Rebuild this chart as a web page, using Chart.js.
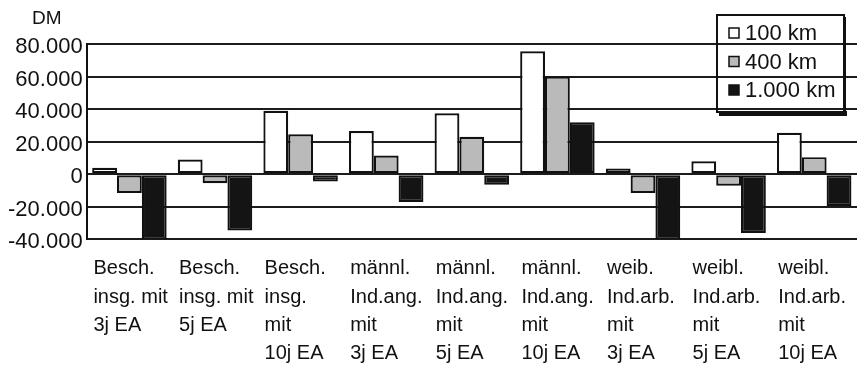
<!DOCTYPE html>
<html>
<head>
<meta charset="utf-8">
<script src="https://cdn.jsdelivr.net/npm/chart.js@4/dist/chart.umd.min.js"></script>
<style>
  html, body { margin: 0; padding: 0; background: #fff; overflow: hidden; }
  #wrap { width: 857px; height: 369px; position: relative; }
</style>
</head>
<body>
<div id="wrap"><canvas id="c"></canvas></div>
<script>
const categories = [
  ["Besch.", "insg. mit", "3j EA"],
  ["Besch.", "insg. mit", "5j EA"],
  ["Besch.", "insg.", "mit", "10j EA"],
  ["männl.", "Ind.ang.", "mit", "3j EA"],
  ["männl.", "Ind.ang.", "mit", "5j EA"],
  ["männl.", "Ind.ang.", "mit", "10j EA"],
  ["weib.", "Ind.arb.", "mit", "3j EA"],
  ["weibl.", "Ind.arb.", "mit", "5j EA"],
  ["weibl.", "Ind.arb.", "mit", "10j EA"]
];
const seriesNames = ["100 km", "400 km", "1.000 km"];
const values100 = [4000, 9000, 39000, 26500, 37500, 75500, 3500, 8000, 25500];
const values400 = [-11500, -5500, 24500, 11500, 23000, 60000, -11500, -7000, 10500];
const values1000 = [-40000, -34500, -4500, -17000, -6500, 32000, -40000, -36000, -19500];
const yTicks = [-40000, -20000, 0, 20000, 40000, 60000, 80000];
const unitLabel = "DM";

function fmtDE(v) {
  const s = Math.abs(v).toString().replace(/\B(?=(\d{3})+(?!\d))/g, ".");
  return (v < 0 ? "-" : "") + s;
}

const FONT = "'Liberation Sans', Arial, Helvetica, sans-serif";

const unitPlugin = {
  id: 'unitLabel',
  afterDraw(chart) {
    const ctx = chart.ctx;
    ctx.save();
    ctx.font = "19px " + FONT;
    ctx.fillStyle = "#111";
    ctx.textAlign = "left";
    ctx.textBaseline = "middle";
    ctx.fillText(unitLabel, 32, 19);
    ctx.restore();
  }
};

const boxLegendPlugin = {
  id: 'boxLegend',
  afterDraw(chart) {
    const ctx = chart.ctx;
    const x = 717, y = 15, w = 127, h = 97;
    ctx.save();
    ctx.fillStyle = "#111";
    ctx.fillRect(x + 2, y + h - 1, w + 1, 5);
    ctx.fillRect(x + w - 1, y + 2, 3, h + 2);
    ctx.strokeStyle = "#111";
    ctx.lineWidth = 2;
    ctx.strokeRect(x, y, w, h);
    ctx.font = "22px " + FONT;
    ctx.textBaseline = "middle";
    ctx.textAlign = "left";
    chart.data.datasets.forEach((ds, i) => {
      const cy = 33 + i * 28.5;
      ctx.fillStyle = ds.backgroundColor;
      ctx.fillRect(729, cy - 5, 10, 10);
      ctx.lineWidth = 1.5;
      ctx.strokeStyle = "#111";
      ctx.strokeRect(729, cy - 5, 10, 10);
      ctx.fillStyle = "#111";
      ctx.fillText(ds.label, 745, cy + 1);
    });
    ctx.restore();
  }
};

new Chart(document.getElementById('c'), {
  type: 'bar',
  data: {
    labels: categories,
    datasets: [
      { label: seriesNames[0], data: values100, backgroundColor: '#ffffff', borderColor: '#111', borderWidth: 2.2, borderSkipped: false },
      { label: seriesNames[1], data: values400, backgroundColor: '#bababa', borderColor: '#111', borderWidth: 2.2, borderSkipped: false },
      { label: seriesNames[2], data: values1000, backgroundColor: '#141414', borderColor: '#111', borderWidth: 2.2, borderSkipped: false }
    ]
  },
  options: {
    responsive: true,
    maintainAspectRatio: false,
    animation: false,
    layout: { padding: { top: 44, left: 4, right: 0, bottom: -14 } },
    datasets: { bar: { categoryPercentage: 0.87, barPercentage: 1.0 } },
    plugins: {
      legend: { display: false },
      tooltip: { enabled: false },
      title: { display: false }
    },
    scales: {
      x: {
        type: 'category',
        offset: true,
        afterFit(scale) {
          scale.paddingLeft = 0;
          scale.paddingRight = 0;
        },
        grid: { display: false, drawTicks: false },
        border: { display: false },
        ticks: {
          autoSkip: false,
          maxRotation: 0,
          minRotation: 0,
          align: 'start',
          labelOffset: -36,
          padding: 15,
          color: '#111',
          font: { family: FONT, size: 20, lineHeight: 1.42 }
        }
      },
      y: {
        min: -40000,
        max: 80000,
        afterBuildTicks(scale) {
          scale.ticks = yTicks.map(v => ({ value: v }));
        },
        grid: { color: '#1c1c1c', lineWidth: 2, drawTicks: false },
        border: { display: true, color: '#111', width: 2 },
        ticks: {
          padding: 4,
          labelOffset: 3,
          color: '#111',
          font: { family: FONT, size: 22 },
          callback: (v) => fmtDE(v)
        }
      }
    }
  },
  plugins: [unitPlugin, boxLegendPlugin]
});
</script>
</body>
</html>
